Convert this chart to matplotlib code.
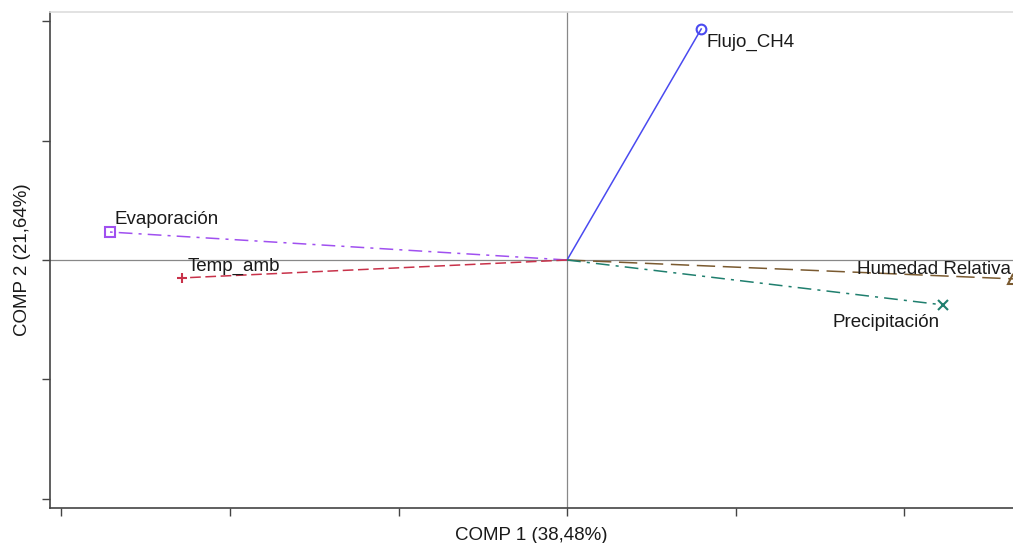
import matplotlib.pyplot as plt

plt.rcParams['font.family'] = ['Liberation Sans', 'DejaVu Sans']

labels = ["Flujo_CH4", "Evaporación", "Temp_amb", "Humedad Relativa", "Precipitación"]
comp1 = [0.398, -1.356, -1.142, 1.323, 1.116]
comp2 = [0.967, 0.117, -0.075, -0.079, -0.188]
colors = ["#4a4af0", "#a050f0", "#c8324a", "#7a5a30", "#1f7f6e"]
markers = ["o", "s", "+", "^", "x"]
styles = ["-", (0, (9, 4, 2, 4)), (0, (7, 3)), (0, (12, 5)), (0, (9, 4, 2, 4))]
# label offsets in points (dx, dy)
offsets = [(3.6, -10), (3.6, 9), (3.6, 8), (-112, 6.5), (-80, -12.5)]

fig = plt.figure(figsize=(10.13, 5.43), dpi=100)
ax = fig.add_axes([50 / 1013, 35 / 543, 963 / 1013, 496 / 543])

ax.axhline(0, color="#888888", lw=0.9, zorder=1)
ax.axvline(0, color="#888888", lw=0.9, zorder=1)

for lab, x, y, c, m, ls, off in zip(labels, comp1, comp2, colors, markers, styles, offsets):
    ax.plot([0, x], [0, y], color=c, lw=1.1, linestyle=ls, zorder=2, clip_on=False)
    ax.plot(x, y, marker=m, color=c, mfc="none", ms=7, mew=1.5, zorder=3, clip_on=False)
    ax.annotate(lab, (x, y), xytext=off, textcoords="offset points",
                fontsize=13.5, color="#1a1a1a", ha="left", va="center", zorder=4)

ax.set_xlim(-1.534, 1.323)
ax.set_ylim(-1.038, 1.038)
ax.set_xticks([-1.5, -1.0, -0.5, 0.0, 0.5, 1.0])
ax.set_yticks([-1.0, -0.5, 0.0, 0.5, 1.0])
ax.set_xticklabels([])
ax.set_yticklabels([])
ax.tick_params(direction="out", length=6, width=1, color="#444444")

ax.spines["right"].set_visible(False)
ax.spines["top"].set_color("#dddddd")
ax.spines["top"].set_linewidth(1.2)
for s in ("left", "bottom"):
    ax.spines[s].set_color("#444444")
    ax.spines[s].set_linewidth(1.2)

ax.set_xlabel("COMP 1 (38,48%)", fontsize=13.5, color="#1a1a1a", labelpad=4)
ax.set_ylabel("COMP 2 (21,64%)", fontsize=13.5, color="#1a1a1a", labelpad=4)

fig.savefig("out.png", dpi=100)
